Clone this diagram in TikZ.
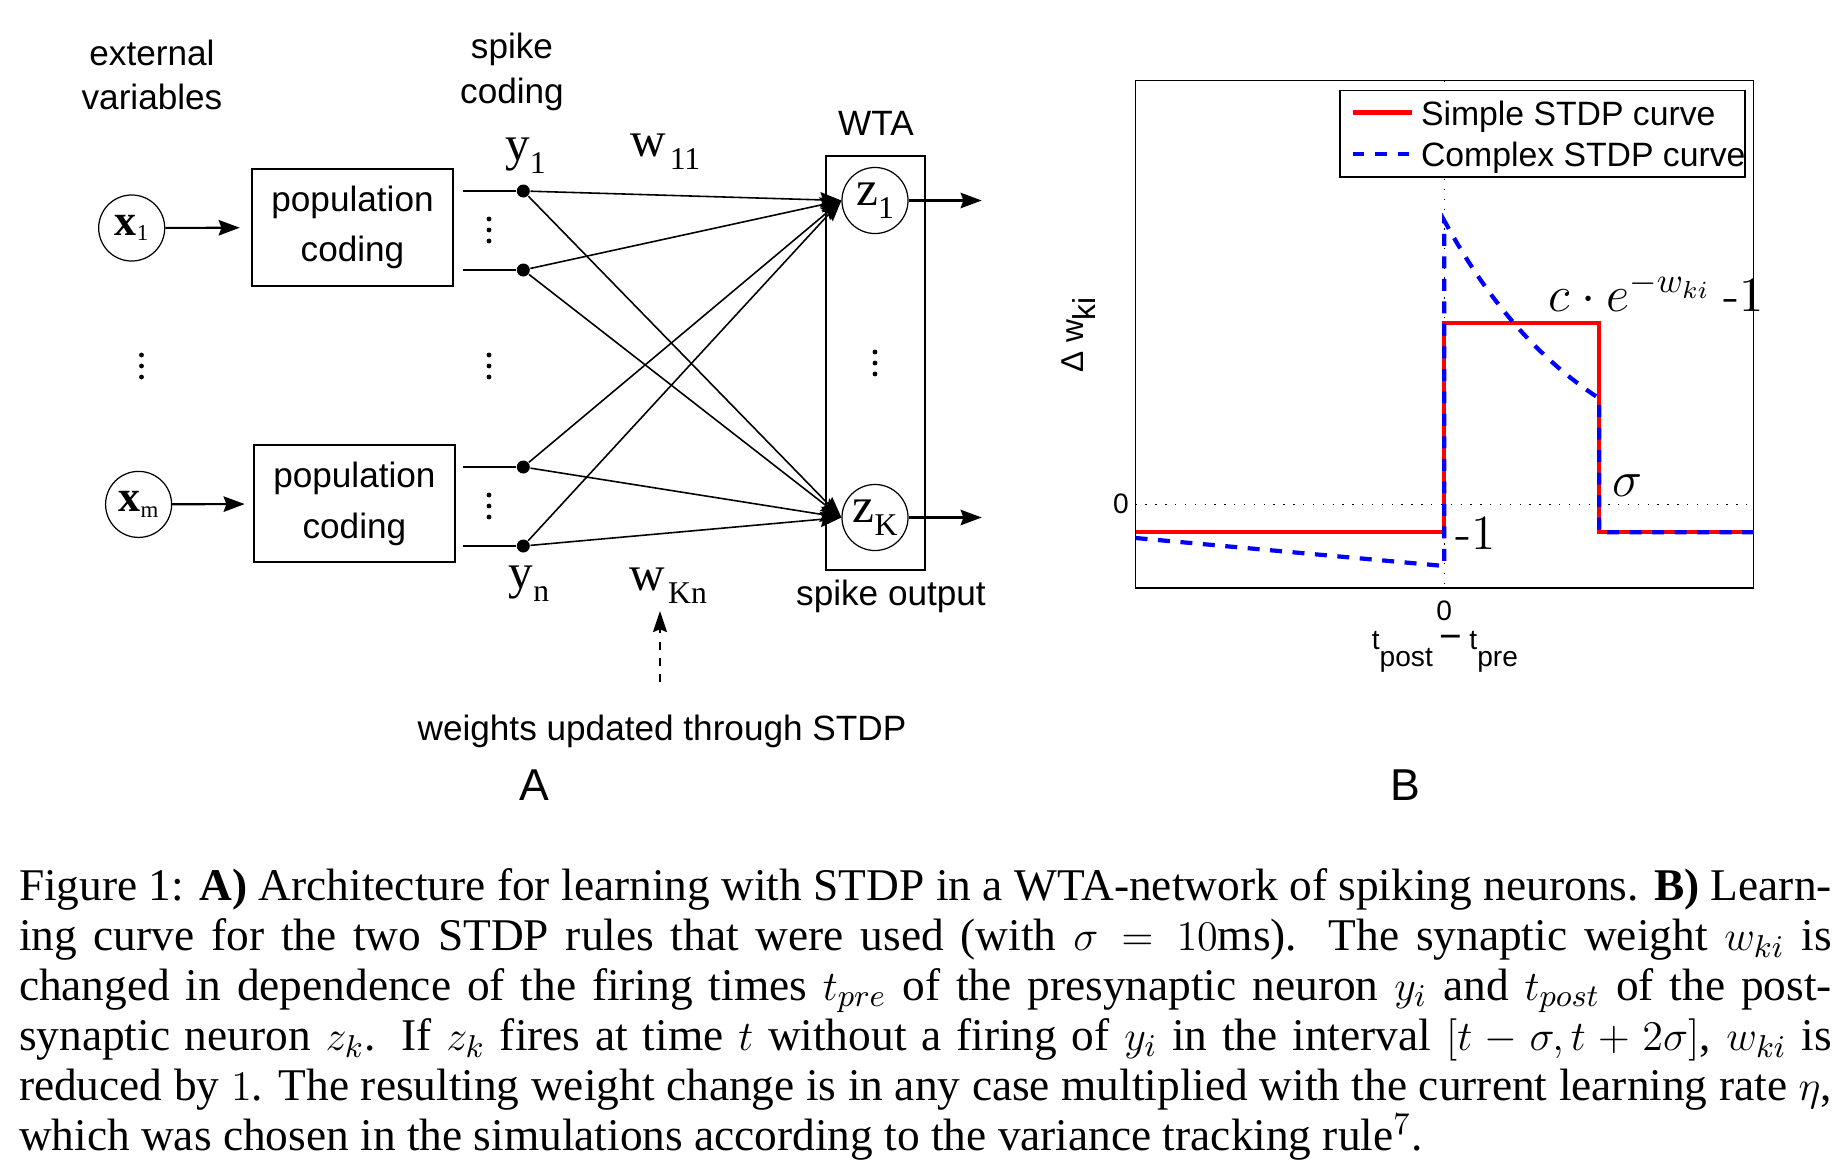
\documentclass[tikz,border=0pt]{standalone}
\usepackage[no-math]{fontspec}
\setmainfont{Liberation Serif}
\setsansfont{Liberation Sans}
\usetikzlibrary{arrows.meta}
\def\cmr{\fontfamily{lmr}\selectfont}
\def\lsub#1#2{#1\raisebox{-3.6pt}{\fontsize{9}{9}\selectfont #2}}
\def\xsub#1#2{\textbf{#1}\raisebox{-1.5pt}{\fontsize{6.5}{6.5}\selectfont #2}}

\begin{document}
\begin{tikzpicture}[x=0.01cm, y=-0.01cm,
  unit/.style={circle, draw, line width=0.35pt, minimum size=0.66cm, inner sep=0pt},
  popbox/.style={draw, line width=0.55pt, minimum width=2.014cm, minimum height=1.172cm, align=center, font=\sffamily\fontsize{10}{14.5}\selectfont},
  spk/.style={circle, fill=black, inner sep=0pt, minimum size=0.13cm},
  sans/.style={font=\sffamily\fontsize{10}{12.6}\selectfont, align=center, inner sep=0pt},
  serif/.style={font=\fontsize{14}{14}\selectfont, inner sep=0pt},
  arr/.style={-{Stealth[length=6pt, width=4.4pt, inset=0.8pt]}, line width=0.6pt},
  syn/.style={-{Stealth[length=6pt, width=4.4pt, inset=0.8pt]}, line width=0.45pt},
  upd/.style={-{Stealth[length=6pt, width=4pt, inset=0.8pt]}, line width=0.45pt, dash pattern=on 2.3pt off 2.3pt},
  redc/.style={red, line width=1.2pt},
  bluec/.style={blue, line width=1.2pt, dash pattern=on 3.4pt off 3pt},
  dotl/.style={line width=0.3pt, dash pattern=on 0.4pt off 2.4pt},
  tick/.style={font=\sffamily\fontsize{8}{8}\selectfont, inner sep=0pt},
  leg/.style={font=\sffamily\fontsize{9.6}{9.6}\selectfont, inner sep=0pt, anchor=base west}]

\useasboundingbox (0,0) rectangle (1838,1169);

%%%%% A: network %%%%%
\node[sans] (ext) at (152,75) {external\\variables};
\node[sans] (spc) at (512,72) {spike\\coding};

\node[unit, font=\fontsize{12.5}{12.5}\selectfont] (x1) at (131.7,228) {\xsub{x}{1}};
\node[unit, font=\fontsize{12.5}{12.5}\selectfont] (xm) at (138.6,504.4) {\xsub{x}{m}};

\node[popbox] (pop1) at (352.5,227.4) {population\\coding};
\node[popbox] (popm) at (354.4,503.7) {population\\coding};
\draw[arr, shorten >=1.1mm] (x1) -- (pop1);
\draw[arr, shorten >=0.8mm] (xm) -- (popm);

\foreach \n/\yy in {y1/191, y2/270, y3/467, yn/546}{
  \node[spk] (\n) at (523.3,\yy) {};
  \coordinate (\n s) at (463,\yy);
  \draw[line width=0.6pt] (\n s) -- (\n);
}

% vertical dots
\foreach \cx/\cy in {141.5/366, 489/230, 489/366, 489/506, 875/363}
  \foreach \dy in {-11,0,11}
    \fill (\cx,\cy+\dy) circle (2.4);

\node[serif] (ly1) at (525.5,156) {\lsub{y}{1}};
\node[serif] (lyn) at (529,584) {\lsub{y}{n}};
\node[serif] (lw11) at (665.5,152) {\lsub{w}{\hspace{1pt}11}};
\node[serif] (lwKn) at (668,586) {\lsub{w}{\hspace{1pt}Kn}};

\node[draw, line width=0.6pt, minimum width=0.985cm, minimum height=4.14cm] (wta) at (875.3,363) {};
\node[sans, anchor=base] (wtal) at (876,135) {WTA};
\node[unit] (z1) at (875,200.5) {\fontsize{14}{14}\selectfont\lsub{z}{1}};
\node[unit] (zK) at (875,517.5) {\fontsize{14}{14}\selectfont\lsub{z}{K}};
\node[sans, anchor=base] (spo) at (891,605) {spike output};

\foreach \a in {y1,y2,y3,yn}
  \foreach \b in {z1,zK}
    \draw[syn] (\a) -- (\b.west);

\coordinate (o1) at (981.7,200.5);
\coordinate (oK) at (981.7,517.5);
\draw[arr] (z1) -- (o1);
\draw[arr] (zK) -- (oK);

\node[sans, anchor=base] (updl) at (662,740) {weights updated through STDP};
\coordinate (u0) at (660,682);
\coordinate (u1) at (660,611);
\draw[upd] (u0) -- (u1);
\node[font=\sffamily\fontsize{12.7}{12.7}\selectfont, anchor=base, inner sep=0pt] (pa) at (534,800) {A};

%%%%% B: STDP curves %%%%%
\draw[dotl] (1444.3,80.5) -- (1444.3,588.3);
\draw[dotl] (1135.6,504.3) -- (1753.5,504.3);
\draw[line width=0.5pt] (1135.6,80.5) rectangle (1753.5,588.3);

\draw[redc] (1135.6,532.3) -- (1444.3,532.3) -- (1444.3,323.2) -- (1599.2,323.2) -- (1599.2,532.3) -- (1753.5,532.3);
\draw[bluec] (1135.6,538) -- (1444.3,566) -- (1444.3,220.7)
  -- plot[domain=0:154.9, samples=40] ({1444.3+\x},{496.9-276.2*exp(-\x/150.2)})
  -- (1599.2,532.3) -- (1753.5,532.3);

\draw[line width=0.5pt, fill=white] (1340.2,90.5) rectangle (1745,176.8);
\draw[redc] (1352.5,112.4) -- (1412.3,112.4);
\draw[bluec] (1352.5,154.3) -- (1412.3,154.3);
\node[leg] (lsim) at (1420.3,125.5) {Simple STDP curve};
\node[leg] (lcom) at (1420.3,166.3) {Complex STDP curve};

\node[tick] (t0y) at (1121,504.3) {0};
\node[tick] (t0x) at (1444.3,610.5) {0};
\node[font=\sffamily\fontsize{8}{8}\selectfont, anchor=base, inner sep=0pt] (xlab) at (1444.9,649.5) {t\raisebox{-4.7pt}{post}\hspace{2pt}{\fontsize{11}{11}\selectfont −}\hspace{2pt}t\raisebox{-4.7pt}{pre}};
\node[font=\sffamily\fontsize{9}{9}\selectfont, rotate=90, anchor=base, inner sep=0pt] (ylab) at (1083,335) {Δ w\raisebox{-3.5pt}{ki}};

\node[font=\fontsize{14}{14}\selectfont, anchor=base west, inner sep=0pt] (lexp) at (1548,311.2) {$c\cdot e^{-w_{ki}}$ {\cmr -1}};
\node[font=\fontsize{14}{14}\selectfont, inner sep=0pt] (lsig) at (1627.7,486) {$\sigma$};
\node[font=\fontsize{14}{14}\selectfont, inner sep=0pt] (lm1) at (1476,533.3) {\cmr -1};
\node[font=\sffamily\fontsize{12.7}{12.7}\selectfont, anchor=base, inner sep=0pt] (pb) at (1405,800) {B};

%%%%% caption %%%%%
\node[anchor=north west, text width=515.5pt, align=justify, inner sep=0pt, font=\fontsize{12.9}{14.23}\selectfont] (cap) at (18.3,867.4) {Figure 1: \textbf{A)} Architecture for learning with STDP in a WTA-network of spiking neurons. \textbf{B)} Learn-\linebreak
ing curve for the two STDP rules that were used (with $\sigma = 10$ms). The synaptic weight $w_{ki}$ is\linebreak
changed in dependence of the firing times $t_{pre}$ of the presynaptic neuron $y_i$ and $t_{post}$ of the post-\linebreak
synaptic neuron $z_k$. If $z_k$ fires at time $t$ without a firing of $y_i$ in the interval $[t-\sigma, t+2\sigma]$, $w_{ki}$ is\linebreak
reduced by $1$. The resulting weight change is in any case multiplied with the current learning rate $\eta$,\linebreak
which was chosen in the simulations according to the variance tracking rule$^7$.};

\end{tikzpicture}
\end{document}
